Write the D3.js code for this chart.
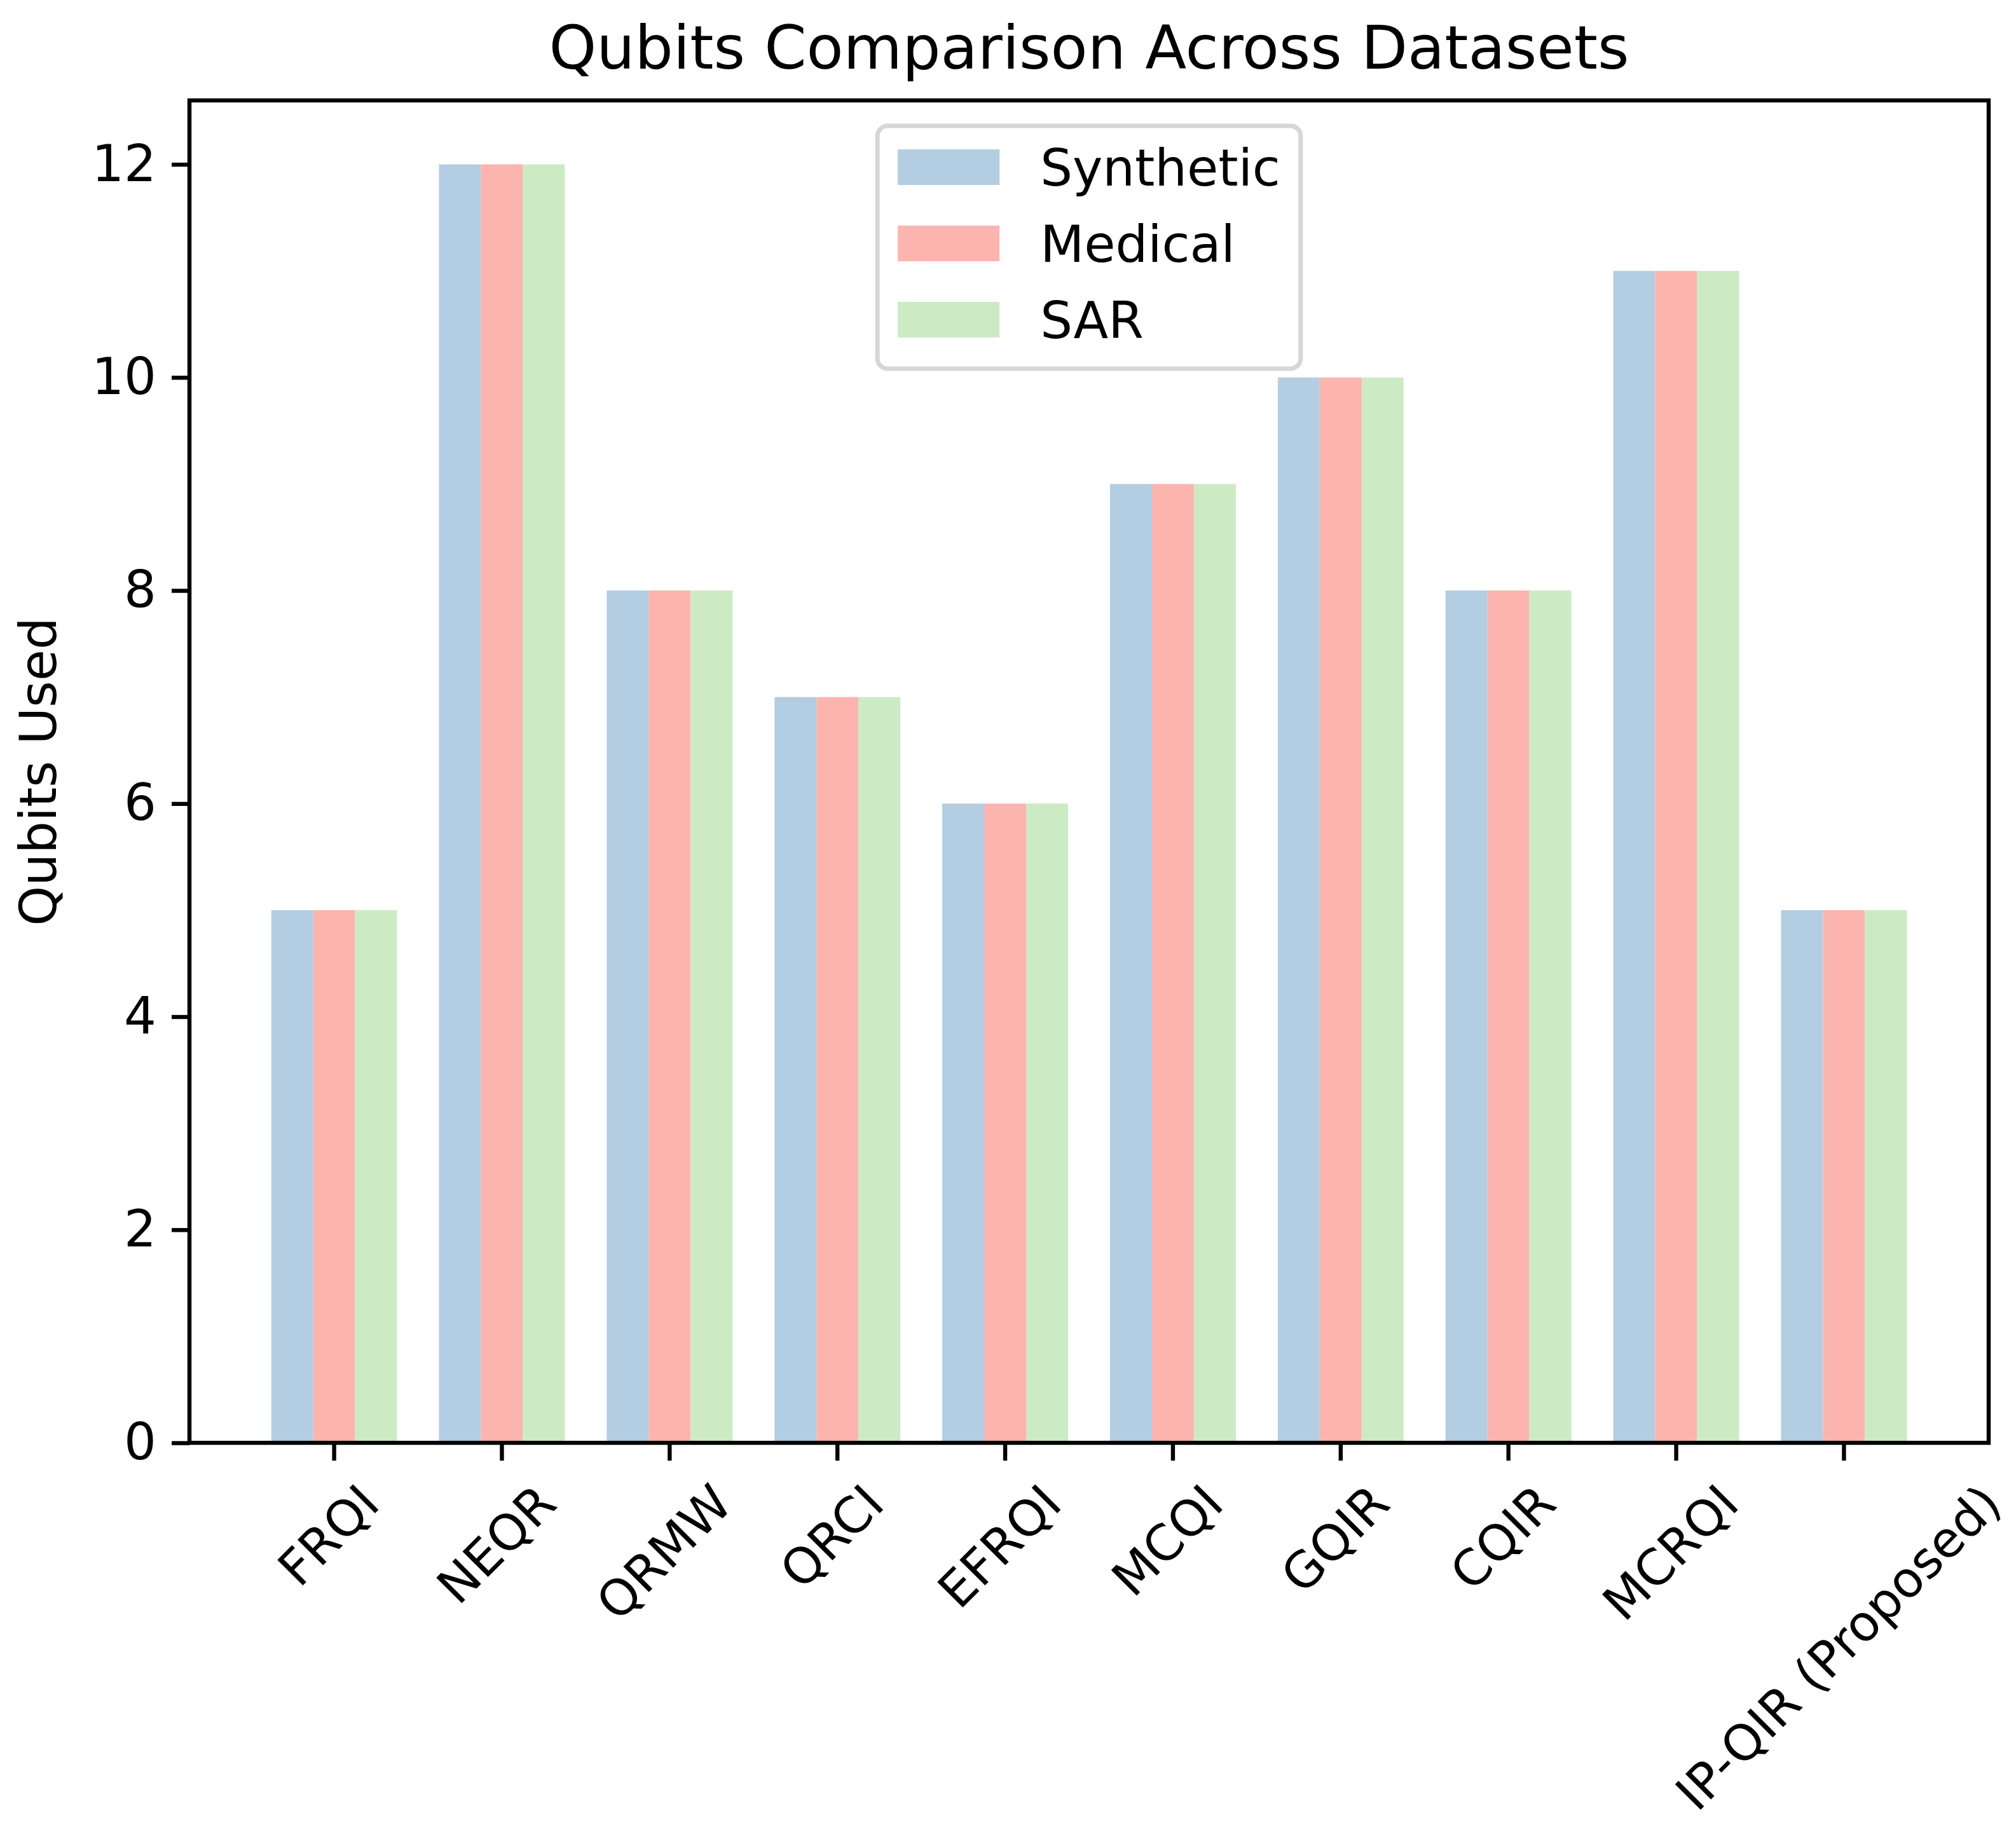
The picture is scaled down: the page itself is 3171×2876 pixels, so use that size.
<!DOCTYPE html>
<html>
<head>
<meta charset="utf-8">
<script src="https://cdn.jsdelivr.net/npm/d3@7"></script>
<style>
  body { margin: 0; background: #fff; }
  text { font-family: "DejaVu Sans", sans-serif; fill: #000; }
</style>
</head>
<body>
<svg class="chart"></svg>
<script>
// chart data
var methods = ["FRQI", "NEQR", "QRMW", "QRCI", "EFRQI", "MCQI", "GQIR", "CQIR", "MCRQI", "IP-QIR (Proposed)"];
var datasets = ["Synthetic", "Medical", "SAR"];
var synthetic = [5, 12, 8, 7, 6, 9, 10, 8, 11, 5];
var medical = [5, 12, 8, 7, 6, 9, 10, 8, 11, 5];
var sar = [5, 12, 8, 7, 6, 9, 10, 8, 11, 5];
var yTicks = [0, 2, 4, 6, 8, 10, 12];
var colors = ["#b3cde3", "#fbb4ae", "#ccebc5"];

var seriesValues = [synthetic, medical, sar];

/******** Make Chart ********/
const width = 3171;
const height = 2876;
const marginTop = 158;
const marginRight = 43;
const marginBottom = 606;
const marginLeft = 298;
const fontSize = 80;
const lineW = 6.4;

var svg = d3.select(".chart")
    .attr("width", width)
    .attr("height", height);

// x position of each method group
var x = d3.scaleBand()
    .domain(methods)
    .range([marginLeft, width - marginRight])
    .paddingInner(0.25)
    .paddingOuter(0.4875);

// position of each dataset inside a group
var xSub = d3.scaleBand()
    .domain(datasets)
    .range([0, x.bandwidth()])
    .padding(0);

var y = d3.scaleLinear()
    .domain([0, 12.6])
    .range([height - marginBottom, marginTop]);

var color = d3.scaleOrdinal().domain(datasets).range(colors);

// flatten into one row per bar
var bars = [];
methods.forEach((m, i) => {
    datasets.forEach((s, j) => {
        bars.push({ method: m, dataset: s, value: seriesValues[j][i] });
    });
});

svg.append("g")
    .selectAll("rect")
    .data(bars)
    .enter()
    .append("rect")
    .attr("x", d => x(d.method) + xSub(d.dataset))
    .attr("y", d => y(d.value))
    .attr("width", xSub.bandwidth())
    .attr("height", d => y(0) - y(d.value))
    .attr("fill", d => color(d.dataset));

// y axis
var yAxis = d3.axisLeft(y)
    .tickValues(yTicks)
    .tickFormat(d3.format("d"))
    .tickSize(28)
    .tickSizeOuter(0)
    .tickPadding(24);

var yG = svg.append("g")
    .attr("transform", `translate(${marginLeft},0)`)
    .call(yAxis);
yG.select(".domain").remove();
yG.selectAll("line").attr("stroke", "#000").attr("stroke-width", lineW);
yG.selectAll("text")
    .style("font-size", fontSize + "px")
    .style("font-family", "DejaVu Sans")
    .attr("fill", "#000");

// x axis
var xAxis = d3.axisBottom(x)
    .tickSize(28)
    .tickSizeOuter(0)
    .tickPadding(0);

var xFont = 78;
var xG = svg.append("g")
    .attr("transform", `translate(0,${height - marginBottom})`)
    .call(xAxis);
xG.select(".domain").remove();
xG.selectAll("line").attr("stroke", "#000").attr("stroke-width", lineW);
xG.selectAll("text")
    .style("font-size", xFont + "px")
    .style("font-family", "DejaVu Sans")
    .attr("fill", "#000")
    .attr("y", 0)
    .attr("dy", "0.26em")
    .attr("transform", function () {
        // rotate about the label centre, keep top of the rotated box under the tick
        var w = this.getComputedTextLength();
        var h = xFont;
        var boxH = (w + h) * Math.SQRT1_2;
        return `translate(-4,${58 + boxH / 2}) rotate(-45)`;
    });

// frame
svg.append("rect")
    .attr("x", marginLeft)
    .attr("y", marginTop)
    .attr("width", width - marginLeft - marginRight)
    .attr("height", height - marginTop - marginBottom)
    .attr("fill", "none")
    .attr("stroke", "#000")
    .attr("stroke-width", lineW);

// title
svg.append("text")
    .attr("x", (marginLeft + width - marginRight) / 2)
    .attr("y", marginTop - 50)
    .attr("text-anchor", "middle")
    .style("font-size", "95px")
    .text("Qubits Comparison Across Datasets");

// y label
svg.append("text")
    .attr("transform", `translate(88,${(marginTop + height - marginBottom) / 2}) rotate(-90)`)
    .attr("text-anchor", "middle")
    .style("font-size", fontSize + "px")
    .text("Qubits Used");

// legend, upper centre
var legend = svg.append("g");
var legendFrame = legend.append("rect");
var rowH = 120;
var legendTop = marginTop + 40;
var entries = legend.selectAll(".legend-entry")
    .data(datasets)
    .enter()
    .append("g")
    .attr("class", "legend-entry")
    .attr("transform", (d, i) => `translate(0,${legendTop + 65 + i * rowH})`);

entries.append("rect")
    .attr("x", 32)
    .attr("y", -28)
    .attr("width", 160)
    .attr("height", 56)
    .attr("fill", d => color(d));

entries.append("text")
    .attr("x", 32 + 160 + 64)
    .attr("dy", "0.36em")
    .style("font-size", fontSize + "px")
    .text(d => d);

var maxText = d3.max(entries.selectAll("text").nodes(), n => n.getComputedTextLength());
var legendW = 32 + 160 + 64 + maxText + 32;
var legendH = 382;
var legendLeft = (marginLeft + width - marginRight) / 2 - legendW / 2;
legend.attr("transform", `translate(${legendLeft},0)`);
legendFrame
    .attr("x", 0)
    .attr("y", legendTop)
    .attr("width", legendW)
    .attr("height", legendH)
    .attr("rx", 16)
    .attr("fill", "#fff")
    .attr("fill-opacity", 0.8)
    .attr("stroke", "#d6d6d6")
    .attr("stroke-width", 7);
</script>
</body>
</html>
